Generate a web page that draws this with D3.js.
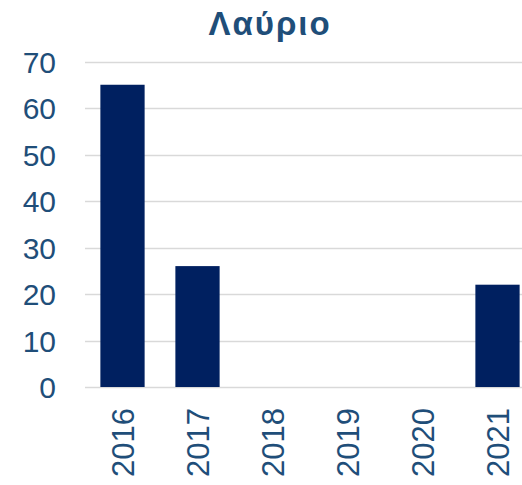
<!DOCTYPE html>
<html>
<head>
<meta charset="utf-8">
<script src="https://cdn.jsdelivr.net/npm/d3@7"></script>
<style>
  html, body { margin: 0; padding: 0; background: #fff; }
  svg { display: block; }
  text { font-family: "Liberation Sans", Arial, sans-serif; }
</style>
</head>
<body>
<script>
const title = "Λαύριο";
const categories = ["2016", "2017", "2018", "2019", "2020", "2021"];
const values = [65, 26, 0, 0, 0, 22];
const yTicks = [0, 10, 20, 30, 40, 50, 60, 70];

const W = 522, H = 485;
const textColor = "#1F4E79";
const barColor = "#002060";
const gridColor = "#D9D9D9";

const svg = d3.select("body").append("svg").attr("width", W).attr("height", H);

const x = d3.scaleBand().domain(categories).range([85, 535]).paddingInner(0.41).paddingOuter(0.205);
const y = d3.scaleLinear().domain([0, 70]).range([387, 61.5]);

// gridlines
svg.append("g").selectAll("line").data(yTicks).join("line")
  .attr("x1", 85).attr("x2", 535)
  .attr("y1", d => Math.round(y(d)) + 0.5).attr("y2", d => Math.round(y(d)) + 0.5)
  .attr("stroke", gridColor).attr("stroke-width", 1.5);

// y axis labels
const yAxis = d3.axisLeft(y).tickValues(yTicks).tickSize(0).tickPadding(0);
const gy = svg.append("g").attr("transform", "translate(56,0)").call(yAxis);
gy.select(".domain").remove();
gy.selectAll("text").attr("fill", textColor).attr("font-size", 30)
  .attr("font-family", "'Liberation Sans', Arial, sans-serif").attr("dy", "0.36em");

// bars
svg.append("g").selectAll("rect").data(categories.map((c, i) => ({c, v: values[i]})).filter(d => d.v > 0)).join("rect")
  .attr("x", d => x(d.c)).attr("width", x.bandwidth())
  .attr("y", d => y(d.v)).attr("height", d => y(0) - y(d.v))
  .attr("fill", barColor);

// x axis labels
const xAxis = d3.axisBottom(x).tickSize(0).tickPadding(0);
const gx = svg.append("g").attr("transform", "translate(0,387)").call(xAxis);
gx.select(".domain").remove();
gx.selectAll("text")
  .attr("fill", textColor).attr("font-size", 31)
  .attr("font-family", "'Liberation Sans', Arial, sans-serif")
  .attr("text-anchor", "end").attr("dy", null).attr("y", 0)
  .attr("transform", "translate(11,21) rotate(-90)");

// title
svg.append("text").attr("x", 270).attr("y", 35).attr("text-anchor", "middle")
  .attr("font-size", 33).attr("font-weight", "bold").attr("letter-spacing", 2)
  .attr("fill", textColor).text(title);
</script>
</body>
</html>
